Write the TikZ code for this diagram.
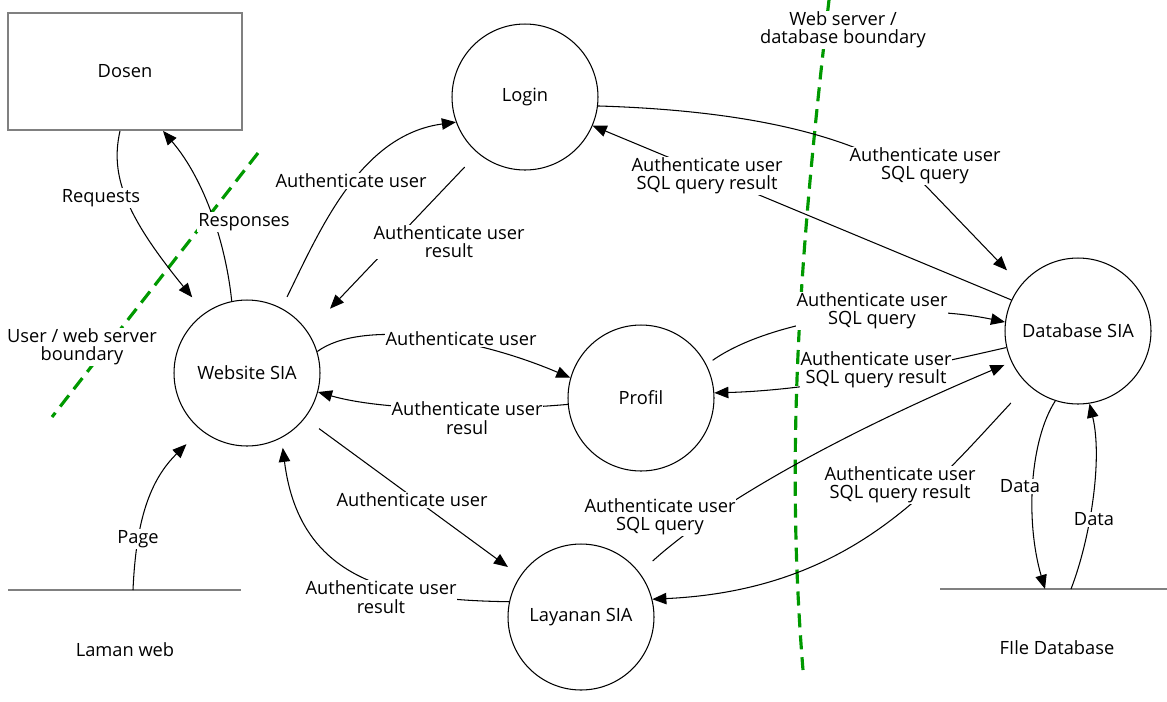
\documentclass[tikz,border=0pt]{standalone}
\usepackage{fontspec}
\setmainfont{Open Sans}
\usepackage{tikz}
\usetikzlibrary{arrows.meta, positioning}

\begin{document}
\begin{tikzpicture}[
        x=0.02cm, y=-0.02cm,
        font=\fontsize{10.4}{10.4}\selectfont,
        proc/.style={circle, draw, line width=0.6pt, minimum size=2.92cm, inner sep=0pt, align=center},
        entity/.style={rectangle, draw=black!50, line width=1.1pt, minimum width=4.68cm, minimum height=2.34cm, align=center},
        storeline/.style={draw=black!50, line width=1.1pt},
        arrow/.style={-{Triangle[length=8pt, width=6.5pt]}, line width=0.6pt},
        lbl/.style={fill=white, inner sep=0.5pt, align=center},
        boundary/.style={draw=green!60!black, line width=1.8pt, dash pattern=on 8pt off 4.5pt}
    ]
        \useasboundingbox (0,0) rectangle (1167,701);

        % Boundaries (drawn first, labels sit on top)
        \draw[boundary] (258,153) -- (52,417);
        \draw[boundary] (829,0) .. controls (800,250) and (785,450) .. (803,670);
        \node[lbl] (ubnd) at (82,347) {User / web server\\boundary};
        \node[lbl] (wbnd) at (843,30) {Web server /\\database boundary};

        % Entity and processes
        \node[entity] (dosen) at (125,71.5) {Dosen};
        \node[proc] (login) at (525,97) {Login};
        \node[proc] (web) at (247,373) {Website SIA};
        \node[proc] (profil) at (641,398) {Profil};
        \node[proc] (lay) at (581,617) {Layanan SIA};
        \node[proc] (db) at (1078,331) {Database SIA};

        % Data stores
        \draw[storeline] (8,590) -- (241,590);
        \draw[storeline] (940,589) -- (1167,589);
        \node (laman) at (125,650) {Laman web};
        \node (filedb) at (1057,648) {FIle Database};
        \coordinate (lwout) at (133,590);
        \coordinate (fdbin) at (1045,589);
        \coordinate (fdbout) at (1071,589);

        % Dosen <-> Website SIA
        \draw[arrow, shorten >=0.4cm] ([xshift=-0.1cm]dosen.south) .. controls (110,175) and (125,215) .. (web.125);
        \draw[arrow] (web.102) .. controls (226,245) and (205,180) .. ([xshift=0.76cm]dosen.south);
        \node[lbl] (req) at (101,198) {Requests};
        \node[lbl] (resp) at (244,222) {Responses};

        % Website SIA <-> Login
        \draw[arrow, shorten <=0.25cm] (web.62) .. controls (320,230) and (360,135) .. (login.200);
        \draw[arrow, shorten <=0.38cm, shorten >=0.64cm] (login.230) -- (web.34);
        \node[lbl] (l1) at (351,181) {Authenticate user};
        \node[lbl] (l2) at (449,242) {Authenticate user\\result};

        % Login <-> Database SIA
        \draw[arrow, shorten >=0.4cm] (login.-7) .. controls (730,110) and (850,130) .. (925,185) -- (db.141);
        \draw[arrow] (db.155) -- (login.-23);
        \node[lbl] (l3) at (925,166) {Authenticate user\\SQL query};
        \node[lbl] (l4) at (707,176) {Authenticate user\\SQL query result};

        % Website SIA <-> Profil
        \draw[arrow] (web.17) .. controls (360,320) and (470,335) .. (profil.164);
        \draw[arrow] (profil.185) .. controls (480,412) and (380,410) .. (web.-15);
        \node[lbl] (l5) at (461,339) {Authenticate user};
        \node[lbl] (l6) at (467,418) {Authenticate user\\resul};

        % Profil <-> Database SIA
        \draw[arrow, shorten <=0.15cm] (profil.27) .. controls (770,320) and (900,300) .. (db.173);
        \draw[arrow] (db.193) .. controls (930,365) and (820,390) .. (profil.4);
        \node[lbl] (l7) at (872,311) {Authenticate user\\SQL query};
        \node[lbl] (l8) at (876,370) {Authenticate user\\SQL query result};

        % Website SIA <-> Layanan SIA
        \draw[arrow, shorten <=0.35cm, shorten >=0.3cm] (web.-38) -- (lay.146);
        \draw[arrow, shorten >=0.2cm] (lay.168) .. controls (400,600) and (300,585) .. (web.-62);
        \node[lbl] (l9) at (412,500) {Authenticate user};
        \node[lbl] (l10) at (381,597) {Authenticate user\\result};

        % Layanan SIA <-> Database SIA
        \draw[arrow, shorten <=0.35cm, shorten >=0.15cm] (lay.37) .. controls (720,500) and (850,430) .. (db.205);
        \draw[arrow, shorten <=0.5cm] (db.227) .. controls (930,490) and (850,590) .. (lay.14);
        \node[lbl] (l11) at (660,517) {Authenticate user\\SQL query};
        \node[lbl] (l12) at (900,485) {Authenticate user\\SQL query result};

        % Database SIA <-> File Database
        \draw[arrow] (db.-108) .. controls (1030,440) and (1025,520) .. (fdbin);
        \draw[arrow] (fdbout) .. controls (1090,540) and (1103,460) .. (db.-81);
        \node[lbl] (d1) at (1020,486) {Data};
        \node[lbl] (d2) at (1094,519) {Data};

        % Laman web -> Website SIA
        \draw[arrow, shorten >=0.4cm] (lwout) .. controls (136,520) and (150,480) .. (web.231);
        \node[lbl] (page) at (138,539) {Page};

    \end{tikzpicture}
\end{document}
